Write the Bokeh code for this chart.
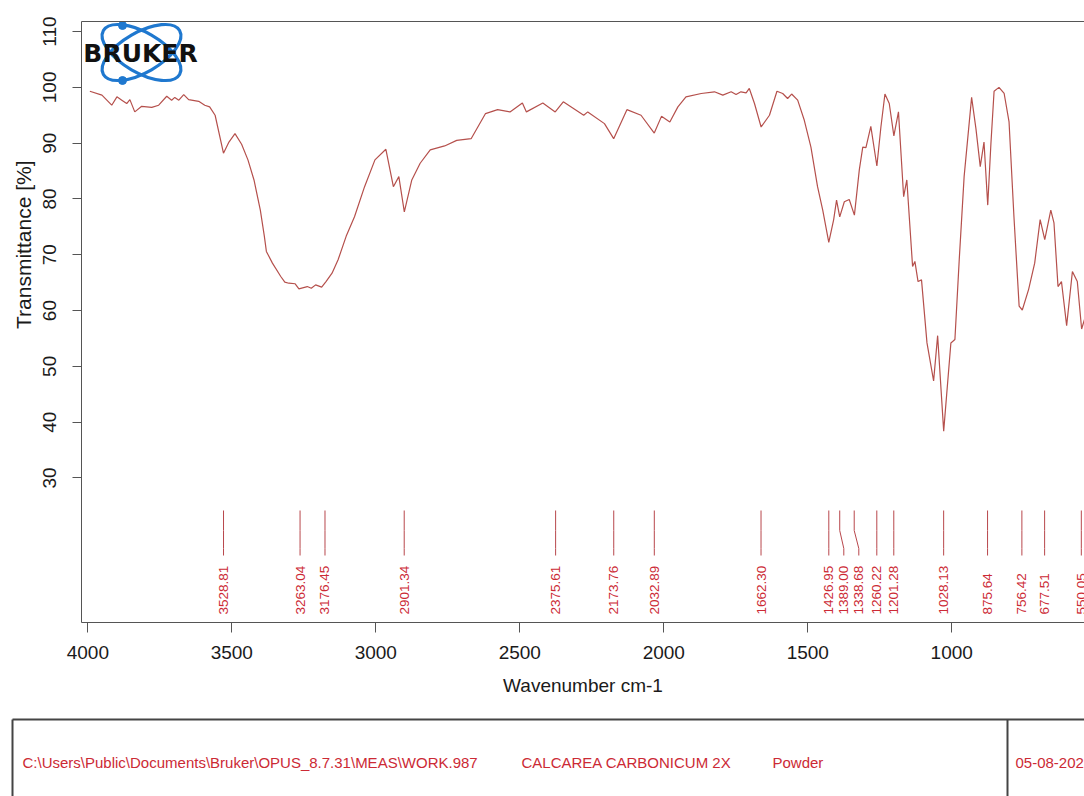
from bokeh.plotting import figure
from bokeh.models import Range1d, LinearAxis, FixedTicker, ColumnDataSource, Title
from bokeh.layouts import column
from bokeh.embed import file_html
from bokeh.resources import INLINE
from bokeh.core.properties import value
import math

# ---------------- data ----------------
wavenumber = [
    3993, 3951, 3917, 3899, 3882, 3865, 3854, 3837, 3813, 3778, 3754, 3726, 3709, 3698,
    3684, 3667, 3650, 3615, 3594, 3577, 3558, 3529, 3510, 3489, 3466, 3444, 3423, 3401,
    3387, 3380, 3359, 3330, 3316, 3302, 3280, 3267, 3238, 3224, 3209, 3188, 3173, 3152,
    3131, 3103, 3074, 3039,
    3003, 2965, 2939, 2920, 2901, 2875, 2846, 2811, 2761, 2719, 2669, 2619, 2577, 2534,
    2491, 2477, 2420, 2377, 2349, 2278, 2264, 2206, 2174, 2128, 2079, 2033, 2008, 1979,
    1951, 1923, 1870, 1824, 1795, 1766, 1749, 1732, 1714, 1703, 1685, 1662, 1633, 1607,
    1587, 1570, 1556, 1535, 1512, 1489, 1466, 1448, 1427, 1410, 1400, 1389, 1373, 1356,
    1338, 1321, 1309, 1298, 1281, 1260, 1246, 1232, 1217, 1201, 1185, 1167, 1156, 1136,
    1128, 1117, 1105, 1086, 1063, 1049, 1028, 1003, 989, 974, 957, 931, 916, 901, 888,
    875, 864, 853, 836, 818, 801, 784, 766, 755, 733, 712, 693, 677, 656, 645, 631, 619,
    601, 581, 564, 549, 539,
]
transmittance = [
    99.3, 98.6, 96.8, 98.3, 97.7, 97.1, 97.8, 95.6, 96.6, 96.4, 96.8, 98.4, 97.7, 98.2,
    97.7, 98.7, 97.8, 97.5, 96.8, 96.5, 95.0, 88.2, 90.2, 91.7, 89.8, 87.0, 83.4, 78.0,
    73.3, 70.6, 68.5, 66.1, 65.1, 64.9, 64.8, 63.9, 64.3, 64.0, 64.6, 64.2, 65.2, 66.7,
    69.1, 73.3, 76.8, 82.2,
    87.0, 88.9, 82.2, 84.0, 77.7, 83.4, 86.4, 88.8, 89.5, 90.5, 90.8, 95.3, 96.0, 95.6,
    97.2, 95.6, 97.2, 95.6, 97.4, 95.0, 95.6, 93.5, 90.8, 96.0, 95.0, 91.8, 94.8, 93.8,
    96.5, 98.3, 98.9, 99.2, 98.6, 99.2, 98.7, 99.2, 99.0, 99.8, 97.1, 92.9, 95.0, 99.3,
    98.9, 98.0, 98.8, 97.7, 94.1, 89.3, 82.2, 78.0, 72.2, 76.3, 79.8, 76.8, 79.5, 79.9,
    77.1, 85.2, 89.3, 89.2, 93.0, 85.9, 92.9, 98.8, 97.1, 91.3, 95.6, 80.4, 83.4, 67.9,
    68.8, 65.2, 65.5, 54.2, 47.4, 55.5, 38.4, 54.2, 54.8, 69.1, 84.0, 98.2, 92.6, 85.8, 90.2,
    78.9, 89.9, 99.3, 100.0, 98.9, 93.8, 76.8, 60.8, 60.1, 63.8, 68.5, 76.3, 72.7, 78.0, 75.7, 64.3, 65.2,
    57.3, 67.0, 65.2, 56.7, 58.4,
]
peak_wavenumbers = [3528.81, 3263.04, 3176.45, 2901.34, 2375.61, 2173.76, 2032.89, 1662.30,
                    1426.95, 1389.00, 1338.68, 1260.22, 1201.28, 1028.13, 875.64, 756.42,
                    677.51, 550.05]
peak_labels = ["%.2f" % w for w in peak_wavenumbers]
x_ticks = [4000, 3500, 3000, 2500, 2000, 1500, 1000, 500]
y_ticks = [30, 40, 50, 60, 70, 80, 90, 100, 110]

info_path = "C:\\Users\\Public\\Documents\\Bruker\\OPUS_8.7.31\\MEAS\\WORK.987"
info_sample = "CALCAREA CARBONICUM 2X"
info_form = "Powder"
info_date = "05-08-2025"

# ---------------- styling / layout ----------------
X0, X1 = 4022, 539
Y0, Y1 = 4.1, 111.8
FW, FH = 1003, 601          # frame size in px
FONT = "Liberation Sans"
AX = "#555555"
CURVE = "#b5504c"
RED = "#cc2a35"

p = figure(width=1084, height=708, output_backend="svg", toolbar_location=None,
           x_range=Range1d(X0, X1), y_range=Range1d(Y0, Y1),
           min_border_left=81, min_border_right=0, min_border_top=21, min_border_bottom=86)
p.outline_line_color = None
p.grid.visible = False
p.background_fill_color = "white"
p.border_fill_color = "white"

def px_to_data(px, py):
    """px, py: offsets inside the frame (left/top origin) -> data coords"""
    return X0 + px / FW * (X1 - X0), Y1 - py / FH * (Y1 - Y0)

# x axis
xa = p.xaxis[0]
xa.ticker = FixedTicker(ticks=x_ticks)
xa.minor_tick_line_color = None
xa.major_tick_out = 10
xa.major_tick_in = 0
xa.axis_line_color = AX
xa.major_tick_line_color = AX
xa.major_label_text_font = FONT
xa.major_label_text_font_size = "19px"
xa.major_label_text_color = "#1a1a1a"
xa.major_label_standoff = 13
xa.axis_label = "Wavenumber cm-1"
xa.axis_label_text_font = FONT
xa.axis_label_text_font_size = "19px"
xa.axis_label_text_font_style = "normal"
xa.axis_label_text_color = "#1a1a1a"
xa.axis_label_standoff = 13

# y axis
ya = p.yaxis[0]
ya.ticker = FixedTicker(ticks=y_ticks)
ya.minor_tick_line_color = None
ya.major_tick_out = 9
ya.major_tick_in = 0
ya.axis_line_color = AX
ya.major_tick_line_color = AX
ya.major_label_orientation = "parallel"
ya.major_label_text_font = FONT
ya.major_label_text_font_size = "19px"
ya.major_label_text_color = "#1a1a1a"
ya.major_label_standoff = 16

# y-axis title, placed higher than the frame centre as in the reference
ytitle = Title(text="Transmittance [%]", align="right", offset=139,
               text_font=FONT, text_font_size="21px", text_font_style="normal",
               text_color="#1a1a1a", standoff=11)
p.add_layout(ytitle, "left")

# top frame line
top = LinearAxis(ticker=FixedTicker(ticks=[]), axis_line_color=AX,
                 major_tick_line_color=None, minor_tick_line_color=None,
                 major_label_text_font_size="0px")
p.add_layout(top, "above")

# spectrum
p.line(wavenumber, transmittance, line_color=CURVE, line_width=1.2)

# peak markers: de-overlap label positions
min_gap = 15 / FW * (X0 - X1)
label_x = []
for w in peak_wavenumbers:
    if label_x and label_x[-1] - w < min_gap:
        label_x.append(label_x[-1] - min_gap)
    else:
        label_x.append(w)

_, y_top = px_to_data(0, 489)
_, y_k1 = px_to_data(0, 509)
_, y_k2 = px_to_data(0, 527)
_, y_bot = px_to_data(0, 534)
_, y_lab = px_to_data(0, 593)
xs = [[w, w, lx, lx] for w, lx in zip(peak_wavenumbers, label_x)]
ys = [[y_top, y_k1, y_k2, y_bot] for _ in peak_wavenumbers]
p.multi_line(xs, ys, line_color="#b8474c", line_width=1.0)
src = ColumnDataSource(dict(x=label_x, y=[y_lab] * len(label_x), t=peak_labels))
p.text(x="x", y="y", text="t", source=src, angle=math.pi / 2, text_align="left",
       text_baseline="middle", text_color=RED, text_font=value(FONT), text_font_size="13.5px")

# BRUKER logo
lx, ly = px_to_data(60, 31)
p.ellipse(x=[lx, lx], y=[ly, ly], width=[88, 88], height=[40, 40], width_units="screen",
          height_units="screen", angle=[math.radians(30), math.radians(-30)],
          fill_color=None, line_color="#1f78cf", line_width=3.2)
d1 = px_to_data(41, 4)
d2 = px_to_data(41, 59)
p.scatter(x=[d1[0], d2[0]], y=[d1[1], d2[1]], size=8, marker="circle",
          fill_color="#1f78cf", line_color="#1f78cf")
tx, ty = px_to_data(59, 32)
p.text(x=[tx], y=[ty], text=["BRUKER"], text_align="center", text_baseline="middle",
       text_font=value("DejaVu Sans"), text_font_style="bold", text_font_size="25px",
       text_color="#111111")

# ---------------- info box ----------------
q = figure(width=1084, height=88, output_backend="svg", toolbar_location=None,
           x_range=Range1d(0, 1084), y_range=Range1d(88, 0),
           min_border=0, min_border_left=0, min_border_right=0,
           min_border_top=0, min_border_bottom=0)
q.axis.visible = False
q.grid.visible = False
q.outline_line_color = None
q.segment(x0=[12, 12, 1007], y0=[11, 11, 11], x1=[1084, 12, 1007], y1=[11, 88, 88],
          line_color="#444444", line_width=2)
q.text(x=[22, 521, 772, 1015], y=[54, 54, 54, 54],
       text=[info_path, info_sample, info_form, info_date],
       text_align="left", text_baseline="middle", text_color=RED,
       text_font=value(FONT), text_font_size="15px")

# keep each plot's frame where its own borders put it (no cross-plot alignment)
for fig in (p, q):
    try:
        fig.frame_align = False
    except Exception:
        pass

layout = column(p, q, spacing=0)
open("out.html", "w").write(file_html(layout, INLINE))
